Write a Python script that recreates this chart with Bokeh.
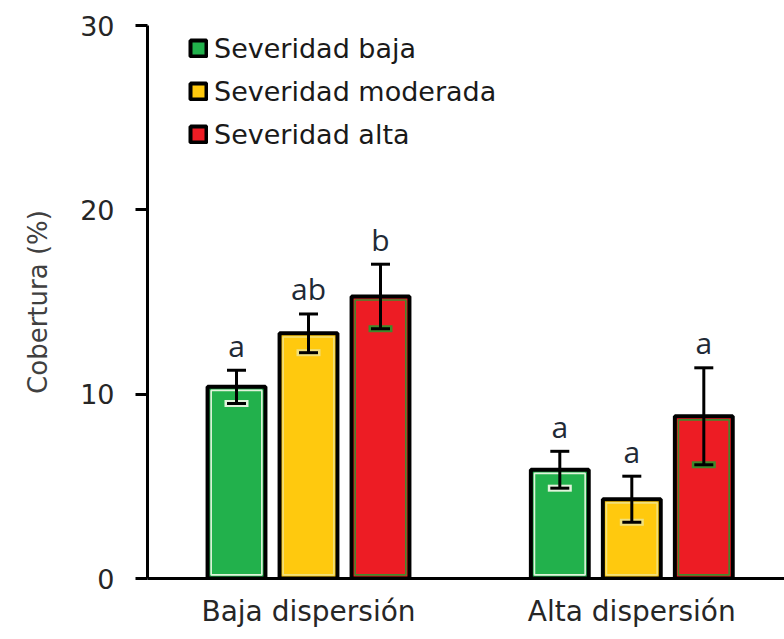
from bokeh.plotting import figure
from bokeh.models import ColumnDataSource, Whisker, TeeHead, Legend, LegendItem, FixedTicker
from bokeh.core.properties import value
from bokeh.embed import file_html
from bokeh.resources import INLINE

# ---- data ----
groups = ["Baja dispersión", "Alta dispersión"]
severities = ["Severidad baja", "Severidad moderada", "Severidad alta"]
sev_baja = [10.4, 5.9]
sev_moderada = [13.3, 4.3]
sev_alta = [15.3, 8.8]
err_baja = [0.9, 1.0]
err_moderada = [1.05, 1.25]
err_alta = [1.75, 2.63]
let_baja = ["a", "a"]
let_moderada = ["ab", "a"]
let_alta = ["b", "a"]
y_ticks = [0, 10, 20, 30]

means = [sev_baja, sev_moderada, sev_alta]
errors = [err_baja, err_moderada, err_alta]
letters = [let_baja, let_moderada, let_alta]

# ---- style ----
fill_colors = ["#22B14C", "#FFC90E", "#ED1C24"]
inner_colors = ["#e2f3dc", "#f1e07c", "#3f8a2c"]
offsets = [-0.2227, 0.0, 0.2227]
bar_w = 0.179

W, H = 784, 639
BL, BR, BT, BB = 147, 0, 25, 61
x0, x1 = 0.502, 2.4723
y0, y1 = 0, 30
xpx = (W - BL - BR) / (x1 - x0)
ypx = (H - BT - BB) / (y1 - y0)

p = figure(width=W, height=H, output_backend="svg", toolbar_location=None,
           x_range=(x0, x1), y_range=(y0, y1),
           min_border_left=BL, min_border_right=BR, min_border_top=BT, min_border_bottom=BB)
p.outline_line_color = None
p.xgrid.visible = False
p.ygrid.visible = False
p.background_fill_color = "white"

items = []
for i in range(3):
    xs = [g + 1 + offsets[i] for g in range(len(groups))]
    tops = means[i]
    lo = [m - e for m, e in zip(tops, errors[i])]
    hi = [m + e for m, e in zip(tops, errors[i])]
    src = ColumnDataSource(dict(x=xs, top=tops, lo=lo, hi=hi, lab=letters[i],
                                ly=[h + 25.0 / ypx for h in hi],
                                itop=[t - 3.6 / ypx for t in tops]))
    outer = p.vbar(x="x", top="top", bottom=0, width=bar_w, source=src,
                   fill_color=fill_colors[i], line_color="black", line_width=4)
    p.vbar(x="x", top="itop", bottom=3.6 / ypx, width=bar_w - 7.2 / xpx, source=src,
           fill_alpha=0, line_color=inner_colors[i], line_width=1.6)
    # light outline behind lower cap
    p.add_layout(Whisker(source=src, base="x", upper="lo", lower="lo", line_alpha=0,
                         upper_head=None, level="overlay",
                         lower_head=TeeHead(size=24, line_color=inner_colors[i], line_width=7)))
    p.add_layout(Whisker(source=src, base="x", upper="hi", lower="lo", line_color="black",
                         line_width=3, level="overlay",
                         upper_head=TeeHead(size=19, line_color="black", line_width=3),
                         lower_head=TeeHead(size=19, line_color="black", line_width=3)))
    p.text(x="x", y="ly", text="lab", source=src, text_align="center",
           text_baseline="alphabetic",
           text_font=value("Open Sans"), text_font_size="30px", text_color="#1f2a36")
    items.append(LegendItem(label=severities[i], renderers=[outer]))

# ---- axes ----
p.xaxis.ticker = FixedTicker(ticks=[1, 2])
p.xaxis.major_label_overrides = {1: groups[0], 2: groups[1]}
p.xaxis.major_tick_out = 0
p.xaxis.major_tick_in = 0
p.xaxis.minor_tick_line_color = None
p.xaxis.axis_line_width = 3
p.xaxis.axis_line_color = "black"
p.xaxis.major_label_text_font = "DejaVu Sans"
p.xaxis.major_label_text_font_size = "28px"
p.xaxis.major_label_text_color = "#262626"
p.xaxis.major_label_standoff = 16

p.yaxis.ticker = FixedTicker(ticks=y_ticks)
p.yaxis.major_tick_out = 12
p.yaxis.major_tick_in = 0
p.yaxis.major_tick_line_width = 3
p.yaxis.major_tick_line_color = "black"
p.yaxis.minor_tick_line_color = None
p.yaxis.axis_line_width = 3
p.yaxis.axis_line_color = "black"
p.yaxis.major_label_text_font = "DejaVu Sans"
p.yaxis.major_label_text_font_size = "27px"
p.yaxis.major_label_text_color = "#262626"
p.yaxis.major_label_standoff = 21
p.yaxis.axis_label = "Cobertura (%)"
p.yaxis.axis_label_text_font = "DejaVu Sans"
p.yaxis.axis_label_text_font_size = "26px"
p.yaxis.axis_label_text_font_style = "normal"
p.yaxis.axis_label_text_color = "#404040"
p.yaxis.axis_label_standoff = 24

legend = Legend(items=items, location=(41, 424), orientation="vertical",
                glyph_width=20, glyph_height=20, label_height=40, spacing=3,
                padding=0, margin=0, label_standoff=6,
                label_text_font="DejaVu Sans", label_text_font_size="27px",
                label_text_color="#1a1a1a", border_line_color=None,
                background_fill_alpha=0)
p.add_layout(legend)

open("out.html", "w").write(file_html(p, INLINE))
